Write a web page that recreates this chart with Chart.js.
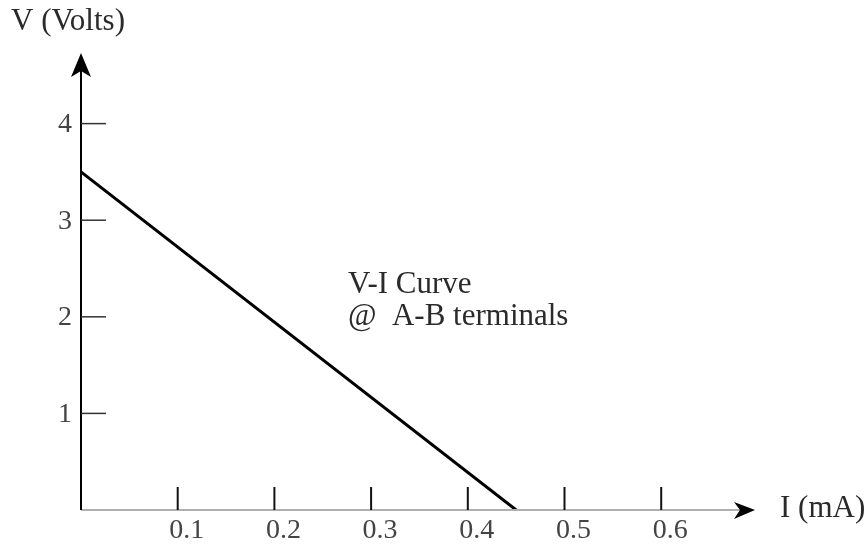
<!DOCTYPE html>
<html>
<head>
<meta charset="utf-8">
<script src="https://cdn.jsdelivr.net/npm/chart.js@4.4.1/dist/chart.umd.min.js"></script>
<style>
  html, body { margin: 0; padding: 0; background: #fff; }
  #wrap { width: 868px; height: 545px; }
</style>
</head>
<body>
<div id="wrap"><canvas id="myChart"></canvas></div>
<script>
// V-I curve data (current in mA, voltage in V)
const currents = [0, 0.45];
const voltages = [3.5, 0];

// tick labels
const xTicks = [0.1, 0.2, 0.3, 0.4, 0.5, 0.6];
const yTicks = [1, 2, 3, 4];

const xTitle = 'I (mA)';
const yTitle = 'V (Volts)';
const note = ['V-I Curve', '@  A-B terminals'];

const FONT = '"Liberation Serif", "DejaVu Serif", serif';

// draws axes with arrows, inward tick marks, labels and the note
const axesPlugin = {
  id: 'axesPlugin',
  afterDraw(chart) {
    const c = chart.ctx;
    const xs = chart.scales.x;
    const ys = chart.scales.y;
    const x0 = xs.getPixelForValue(0);
    const y0 = ys.getPixelForValue(0);
    const xEnd = xs.getPixelForValue(xs.max);
    const yEnd = ys.getPixelForValue(ys.max);

    c.save();
    // x axis (grey)
    c.strokeStyle = '#b0b0b0';
    c.lineWidth = 2;
    c.beginPath();
    c.moveTo(x0, y0);
    c.lineTo(xEnd - 6, y0);
    c.stroke();
    // y axis (black)
    c.strokeStyle = '#000';
    c.lineWidth = 2;
    c.beginPath();
    c.moveTo(x0, y0);
    c.lineTo(x0, yEnd + 6);
    c.stroke();

    // arrows
    c.fillStyle = '#000';
    c.beginPath();
    c.moveTo(x0, yEnd - 3);
    c.lineTo(x0 - 10, yEnd + 21);
    c.lineTo(x0, yEnd + 15);
    c.lineTo(x0 + 10, yEnd + 21);
    c.closePath();
    c.fill();
    c.beginPath();
    c.moveTo(xEnd, y0);
    c.lineTo(xEnd - 21, y0 - 8);
    c.lineTo(xEnd - 15, y0);
    c.lineTo(xEnd - 21, y0 + 9);
    c.closePath();
    c.fill();

    // tick marks
    c.strokeStyle = '#111';
    c.lineWidth = 2;
    xTicks.forEach(v => {
      const px = xs.getPixelForValue(v);
      c.beginPath();
      c.moveTo(px, y0);
      c.lineTo(px, y0 - 23);
      c.stroke();
    });
    c.lineWidth = 1.5;
    c.strokeStyle = '#333';
    yTicks.forEach(v => {
      const py = ys.getPixelForValue(v);
      c.beginPath();
      c.moveTo(x0, py);
      c.lineTo(x0 + 25, py);
      c.stroke();
    });

    // tick labels
    c.fillStyle = '#444';
    c.font = '28px ' + FONT;
    c.textAlign = 'center';
    c.textBaseline = 'alphabetic';
    xTicks.forEach(v => {
      c.fillText(String(v), xs.getPixelForValue(v) + 9, y0 + 28);
    });
    c.textAlign = 'right';
    c.textBaseline = 'middle';
    yTicks.forEach(v => {
      c.fillText(String(v), x0 - 9, ys.getPixelForValue(v) + 1);
    });

    // axis titles
    c.fillStyle = '#2a2a2a';
    c.font = '31px ' + FONT;
    c.textAlign = 'left';
    c.textBaseline = 'alphabetic';
    c.fillText(yTitle, 11, 30);
    c.fillText(xTitle, xEnd + 25, y0 + 7);

    // note
    const nx = xs.getPixelForValue(0.276);
    c.fillText(note[0], nx, ys.getPixelForValue(2.25));
    c.fillText(note[1], nx, ys.getPixelForValue(1.915));
    c.restore();
  }
};

const ctx = document.getElementById('myChart').getContext('2d');
const myChart = new Chart(ctx, {
  type: 'scatter',
  data: {
    datasets: [{
      label: 'V-I Curve',
      data: currents.map((x, i) => ({ x: x, y: voltages[i] })),
      showLine: true,
      borderColor: '#000',
      borderWidth: 3,
      pointRadius: 0,
      fill: false
    }]
  },
  options: {
    responsive: true,
    maintainAspectRatio: false,
    animation: false,
    layout: { padding: { left: 81, right: 113, top: 56, bottom: 35 } },
    plugins: { legend: { display: false }, tooltip: { enabled: false } },
    scales: {
      x: { type: 'linear', min: 0, max: 0.697, display: false },
      y: { type: 'linear', min: 0, max: 4.7, display: false }
    }
  },
  plugins: [axesPlugin]
});
</script>
</body>
</html>
